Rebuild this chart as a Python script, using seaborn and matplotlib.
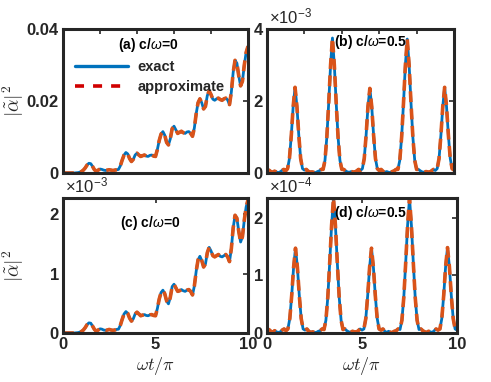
import numpy as np
import matplotlib
matplotlib.use("Agg")
import matplotlib.pyplot as plt
from matplotlib.lines import Line2D
import seaborn as sns

# time axis (omega t / pi), sampled every 0.1
wt = np.round(np.arange(0, 10.01, 0.1), 1)

# (a) c/omega = 0, values in units of 1e-3
a_vals = [0, 0, 0, 0, 0, 0, 0, 0.05, 0.1, 0.2,
          0.4, 0.8, 1.4, 2.2, 2.7, 2.6, 1.8, 0.9, 0.5, 0.8,
          1.1, 1.0, 0.8, 0.7, 0.8, 0.9, 0.8, 0.7, 0.8, 0.9,
          1.0, 2.0, 3.6, 5.0, 5.7, 5.3, 4.0, 3.2, 3.8, 5.0,
          5.5, 5.0, 4.6, 4.8, 5.0, 4.7, 4.6, 4.9, 5.0, 4.7,
          4.6, 6.5, 9.0, 10.8, 11.5, 10.5, 8.5, 7.8, 9.5, 12.3,
          13.0, 12.0, 11.0, 11.3, 11.6, 11.2, 11.0, 11.4, 11.5, 11.0,
          10.2, 12.5, 16.5, 19.5, 20.6, 19.5, 17.8, 18.5, 21.5, 22.8,
          21.8, 20.5, 20.2, 20.6, 20.8, 20.4, 20.2, 20.6, 20.8, 20.3,
          19.0, 22.5, 28.0, 31.3, 30.5, 27.0, 24.2, 25.5, 30.0, 33.5,
          35.2]

# (b) c/omega = 0.5, units of 1e-3
b_vals = [0.05, 0.08, 0.04, 0.02, 0.05, 0.03, 0.01, 0.03, 0.07, 0.1,
          0.06, 0.12, 0.4, 1.05, 1.85, 2.38, 1.85, 1.05, 0.4, 0.12,
          0.08, 0.1, 0.05, 0.02, 0.03, 0.02, 0.01, 0.04, 0.06, 0.1,
          0.1, 0.35, 1.0, 1.95, 3.0, 3.75, 3.0, 1.95, 1.0, 0.35,
          0.1, 0.1, 0.06, 0.03, 0.02, 0.04, 0.03, 0.02, 0.06, 0.1,
          0.07, 0.12, 0.4, 1.05, 1.85, 2.35, 1.85, 1.05, 0.4, 0.12,
          0.07, 0.1, 0.05, 0.02, 0.04, 0.02, 0.01, 0.04, 0.06, 0.1,
          0.1, 0.35, 1.0, 1.95, 3.0, 3.72, 3.0, 1.95, 1.0, 0.35,
          0.1, 0.1, 0.06, 0.03, 0.02, 0.04, 0.03, 0.02, 0.06, 0.1,
          0.07, 0.12, 0.4, 1.05, 1.85, 2.38, 1.85, 1.05, 0.4, 0.12,
          0.08]

# (c) c/omega = 0, units of 1e-3
c_vals = [0, 0, 0, 0, 0, 0, 0, 0.003, 0.006, 0.013,
          0.025, 0.05, 0.09, 0.14, 0.17, 0.165, 0.115, 0.06, 0.03, 0.05,
          0.07, 0.065, 0.05, 0.045, 0.05, 0.06, 0.05, 0.045, 0.05, 0.06,
          0.065, 0.13, 0.23, 0.32, 0.36, 0.33, 0.25, 0.2, 0.24, 0.32,
          0.35, 0.32, 0.29, 0.3, 0.31, 0.295, 0.29, 0.305, 0.31, 0.295,
          0.29, 0.41, 0.57, 0.68, 0.72, 0.66, 0.54, 0.49, 0.6, 0.78,
          0.82, 0.76, 0.7, 0.71, 0.73, 0.71, 0.7, 0.72, 0.73, 0.7,
          0.64, 0.79, 1.04, 1.23, 1.29, 1.22, 1.11, 1.16, 1.35, 1.44,
          1.38, 1.3, 1.28, 1.3, 1.32, 1.29, 1.28, 1.3, 1.32, 1.28,
          1.2, 1.42, 1.77, 1.98, 1.93, 1.71, 1.53, 1.62, 1.9, 2.12,
          2.24]

# (d) c/omega = 0.5, units of 1e-4
d_vals = [0.04, 0.06, 0.03, 0.01, 0.04, 0.02, 0.01, 0.02, 0.05, 0.07,
          0.04, 0.07, 0.25, 0.65, 1.14, 1.47, 1.14, 0.65, 0.25, 0.07,
          0.05, 0.07, 0.03, 0.01, 0.02, 0.01, 0.01, 0.03, 0.04, 0.07,
          0.06, 0.22, 0.62, 1.22, 1.87, 2.34, 1.87, 1.22, 0.62, 0.22,
          0.06, 0.07, 0.04, 0.02, 0.01, 0.03, 0.02, 0.01, 0.04, 0.07,
          0.05, 0.07, 0.25, 0.65, 1.14, 1.47, 1.14, 0.65, 0.25, 0.07,
          0.05, 0.07, 0.03, 0.01, 0.03, 0.01, 0.01, 0.03, 0.04, 0.07,
          0.06, 0.22, 0.62, 1.22, 1.87, 2.34, 1.87, 1.22, 0.62, 0.22,
          0.06, 0.07, 0.04, 0.02, 0.01, 0.03, 0.02, 0.01, 0.04, 0.07,
          0.05, 0.07, 0.25, 0.65, 1.15, 1.48, 1.15, 0.65, 0.25, 0.07,
          0.05]

panel_titles = ["(a) c/$\\omega$=0", "(b) c/$\\omega$=0.5",
                "(c) c/$\\omega$=0", "(d) c/$\\omega$=0.5"]
legend_labels = ["exact", "approximate"]
multipliers = [None, "$\\times10^{-3}$", "$\\times10^{-3}$", "$\\times10^{-4}$"]
y_limits = [40, 4, 2.27, 2.34]
y_ticks = [[0, 20, 40], [0, 2, 4], [0, 1, 2], [0, 1, 2]]
y_ticklabels = [["0", "0.02", "0.04"], ["0", "2", "4"], ["0", "1", "2"], ["0", "1", "2"]]

BLUE = "#0072BD"
ORANGE = "#D95319"
RED = "#D00000"
DARK = "#262626"

sns.set_style("white")
plt.rcParams["font.family"] = ["Liberation Sans", "DejaVu Sans"]
plt.rcParams["mathtext.fontset"] = "custom"
plt.rcParams["mathtext.rm"] = "Liberation Sans"
plt.rcParams["mathtext.it"] = "Liberation Sans:italic"
plt.rcParams["mathtext.bf"] = "Liberation Sans:bold"

fig = plt.figure(figsize=(4.91, 3.82), dpi=100)
W, H = 491.0, 382.0
# axes boxes in pixels: left, right, top, bottom
boxes = [(63, 248, 29, 173), (267, 454, 29, 173),
         (63, 248, 198, 333), (267, 457, 198, 333)]
title_pos = [(0.462, 0.889), (0.553, 0.91), (0.47, 0.815), (0.547, 0.889)]
data = [a_vals, b_vals, c_vals, d_vals]

axes = []
for i, (l, r, t, b) in enumerate(boxes):
    ax = fig.add_axes([l / W, 1 - b / H, (r - l) / W, (b - t) / H])
    axes.append(ax)
    sns.lineplot(x=wt, y=data[i], ax=ax, color=BLUE, lw=2.0, estimator=None)
    sns.lineplot(x=wt, y=data[i], ax=ax, color=ORANGE, lw=2.6, estimator=None)
    ax.lines[-1].set_dashes((3.0, 1.8))

    ax.set_xlim(0, 10)
    ax.set_ylim(0, y_limits[i])
    ax.set_yticks(y_ticks[i])
    ax.set_yticklabels(y_ticklabels[i])
    if i < 2:
        ax.set_xticks([0, 2, 4, 6, 8, 10])
        ax.set_xticklabels([])
    else:
        ax.set_xticks([0, 5, 10])
        ax.set_xticklabels(["0", "5", "10"])
        ax.set_xlabel(r"$\omega t/\pi$", fontsize=13, labelpad=2, math_fontfamily="cm")
    if i % 2 == 0:
        ax.set_ylabel(r"$|\tilde{\alpha}|^2$", fontsize=14, math_fontfamily="cm")
        ax.yaxis.set_label_coords(-0.2, 0.5)
    else:
        ax.set_ylabel("")

    ax.tick_params(direction="in", length=3.5, width=1.2, top=True, right=True,
                   labelsize=12, pad=3, colors=DARK)
    for lab in ax.get_xticklabels() + ax.get_yticklabels():
        lab.set_fontweight("bold")
    for sp in ax.spines.values():
        sp.set_linewidth(2.2)
        sp.set_color(DARK)

    ax.text(title_pos[i][0], title_pos[i][1], panel_titles[i], transform=ax.transAxes,
            ha="center", va="center", fontsize=10, fontweight="bold", color="black")
    if multipliers[i]:
        ax.text(0.01, 1.02, multipliers[i], transform=ax.transAxes,
                ha="left", va="bottom", fontsize=12, color=DARK)

handles = [Line2D([], [], color=BLUE, lw=2.4),
           Line2D([], [], color=RED, lw=2.6, dashes=(2.5, 2.5))]
axes[0].legend(handles, legend_labels, loc="upper left", frameon=False,
               bbox_to_anchor=(75 / W, 1 - 60 / H), bbox_transform=fig.transFigure,
               borderpad=0, borderaxespad=0, handlelength=3.6, handletextpad=0.7,
               labelspacing=0.4, prop={"weight": "bold", "size": 10.5})

fig.savefig("out.png", dpi=100)
